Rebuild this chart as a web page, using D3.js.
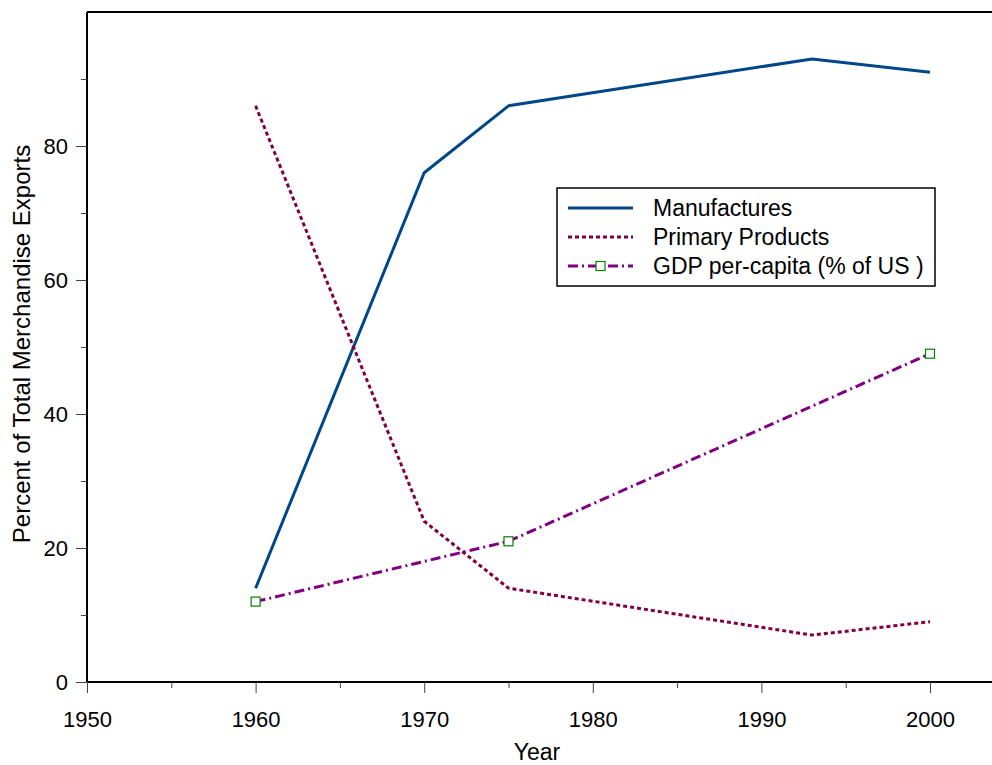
<!DOCTYPE html>
<html>
<head>
<meta charset="utf-8">
<script src="https://cdn.jsdelivr.net/npm/d3@7"></script>
<style>
  body { margin: 0; background: #fff; }
  text { font-family: "Liberation Sans", Arial, sans-serif; }
</style>
</head>
<body>
<div id="chart"></div>
<script>
// chart data
const years = [1960, 1970, 1975, 1993, 2000];
const manufactures = [14, 76, 86, 93, 91];
const primary = [86, 24, 14, 7, 9];
const gdpYears = [1960, 1975, 2000];
const gdpShare = [12, 21, 49];
const xTicks = [1950, 1960, 1970, 1980, 1990, 2000];
const yTicks = [0, 20, 40, 60, 80];
const legendNames = ["Manufactures", "Primary Products", "GDP per-capita (% of US )"];

const width = 992;
const height = 765;
const margin = {left: 87, right: 0, top: 12, bottom: 82};

const svg = d3.select("#chart")
  .append("svg")
  .attr("width", width)
  .attr("height", height);

// scales
const xScale = d3.scaleLinear()
  .domain([1950, 2000])
  .range([margin.left, 930]);
const yScale = d3.scaleLinear()
  .domain([0, 100])
  .range([height - margin.bottom - 1, margin.top]);

// frame: top line
svg.append("line")
  .attr("x1", margin.left).attr("x2", width)
  .attr("y1", margin.top).attr("y2", margin.top)
  .attr("stroke", "#000").attr("stroke-width", 2);

// y axis, major ticks with labels
const yAxis = svg.append("g")
  .attr("transform", `translate(${margin.left},0)`)
  .call(d3.axisLeft(yScale).tickValues(yTicks).tickSize(11).tickPadding(8))
  .attr("font-size", "22px")
  .attr("font-family", null);
yAxis.select(".domain").attr("stroke-width", 2).attr("d", `M0,${yScale(0)}V${margin.top}`);
yAxis.selectAll(".tick line").attr("stroke", "#444");
yAxis.selectAll(".tick text").attr("fill", "#000");

// y minor ticks
svg.append("g")
  .attr("transform", `translate(${margin.left},0)`)
  .call(d3.axisLeft(yScale).tickValues([10, 30, 50, 70, 90]).tickSize(6).tickFormat(""))
  .call(g => g.select(".domain").remove())
  .selectAll(".tick line").attr("stroke", "#444");

// x axis
const xAxis = svg.append("g")
  .attr("transform", `translate(0,${yScale(0)})`)
  .call(d3.axisBottom(xScale).tickValues(xTicks).tickFormat(d3.format("d")).tickSize(11).tickPadding(18))
  .attr("font-size", "22px")
  .attr("font-family", null);
xAxis.select(".domain").attr("stroke-width", 2).attr("d", `M${margin.left},0H${width}`);
xAxis.selectAll(".tick line").attr("stroke", "#444");
xAxis.selectAll(".tick text").attr("fill", "#000");

svg.append("g")
  .attr("transform", `translate(0,${yScale(0)})`)
  .call(d3.axisBottom(xScale).tickValues([1955, 1965, 1975, 1985, 1995]).tickSize(6).tickFormat(""))
  .call(g => g.select(".domain").remove())
  .selectAll(".tick line").attr("stroke", "#444");

// axis titles
svg.append("text")
  .attr("x", 537).attr("y", 760)
  .attr("text-anchor", "middle")
  .attr("font-size", "23px")
  .text("Year");

svg.append("text")
  .attr("transform", "translate(30,344) rotate(-90)")
  .attr("text-anchor", "middle")
  .attr("font-size", "24px")
  .text("Percent of Total Merchandise Exports");

// lines
const line = d3.line()
  .x(d => xScale(d[0]))
  .y(d => yScale(d[1]));

const styles = [
  {color: "#00478a", dash: null},
  {color: "#800040", dash: "4,3"},
  {color: "#800080", dash: "10,4,2,4"}
];

const series = [
  years.map((y, i) => [y, manufactures[i]]),
  years.map((y, i) => [y, primary[i]]),
  gdpYears.map((y, i) => [y, gdpShare[i]])
];

series.forEach((s, i) => {
  svg.append("path")
    .datum(s)
    .attr("d", line)
    .attr("fill", "none")
    .attr("stroke", styles[i].color)
    .attr("stroke-width", 3)
    .attr("stroke-dasharray", styles[i].dash);
});

// gdp markers
svg.selectAll(".marker")
  .data(series[2])
  .enter()
  .append("rect")
  .attr("class", "marker")
  .attr("x", d => xScale(d[0]) - 4.5)
  .attr("y", d => yScale(d[1]) - 4.5)
  .attr("width", 9)
  .attr("height", 9)
  .attr("fill", "#fff")
  .attr("stroke", "#008000")
  .attr("stroke-width", 1.2);

// legend
const legend = svg.append("g").attr("transform", "translate(557,188)");
legend.append("rect")
  .attr("width", 378).attr("height", 98)
  .attr("fill", "#fff").attr("stroke", "#000").attr("stroke-width", 1.5);

legendNames.forEach((name, i) => {
  const y = 20 + i * 29;
  legend.append("line")
    .attr("x1", 11).attr("x2", 76)
    .attr("y1", y).attr("y2", y)
    .attr("stroke", styles[i].color)
    .attr("stroke-width", 3)
    .attr("stroke-dasharray", styles[i].dash);
  legend.append("text")
    .attr("x", 96).attr("y", y + 8)
    .attr("font-size", "23px")
    .text(name);
});
legend.append("rect")
  .attr("x", 39).attr("y", 78 - 4.5)
  .attr("width", 9).attr("height", 9)
  .attr("fill", "#fff").attr("stroke", "#008000").attr("stroke-width", 1.2);
</script>
</body>
</html>
